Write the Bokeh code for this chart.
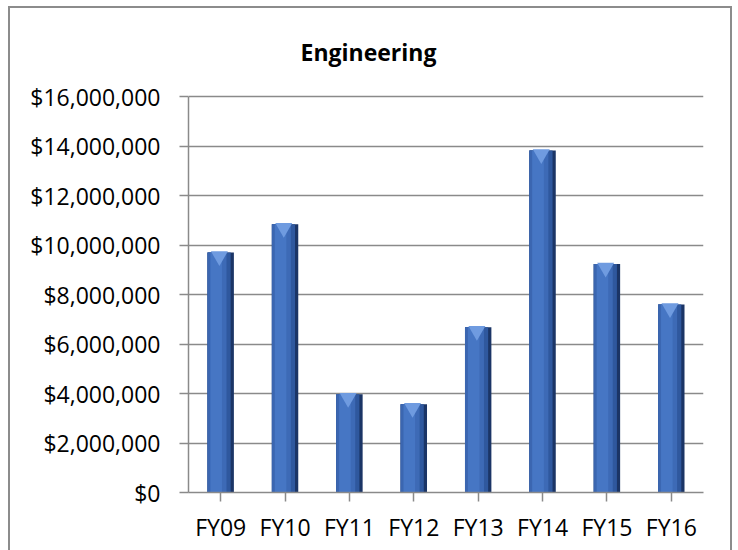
from bokeh.plotting import figure
from bokeh.models import FactorRange, Range1d, NumeralTickFormatter, FixedTicker, ColumnDataSource, Label
from bokeh.transform import dodge
from bokeh.embed import file_html
from bokeh.resources import INLINE

categories = ["FY09", "FY10", "FY11", "FY12", "FY13", "FY14", "FY15", "FY16"]
values = [9_700_000, 10_840_000, 3_970_000, 3_570_000, 6_680_000, 13_820_000, 9_230_000, 7_600_000]
y_ticks = [0, 2_000_000, 4_000_000, 6_000_000, 8_000_000, 10_000_000, 12_000_000, 14_000_000, 16_000_000]
y_max = 16_000_000

FONT = "Open Sans"
src = ColumnDataSource(dict(cat=categories, val=values,
                            tri=[v - 150_000 for v in values]))

# frame extends to the top of the canvas so the title can sit inside it;
# the axis and grid are bounded to 0..16M
FRAME_H = 484
p = figure(x_range=FactorRange(*categories), y_range=Range1d(0, y_max * FRAME_H / 396),
           frame_width=515, frame_height=FRAME_H, width=720, height=542,
           min_border_left=178, min_border_right=27, min_border_top=0, min_border_bottom=58,
           output_backend="svg", toolbar_location=None, tools="")
p.x_range.range_padding = 0
p.x_range.factor_padding = 0
p.outline_line_color = None
p.background_fill_color = "white"
p.border_fill_color = "white"
p.styles = {"margin-left": "8px", "margin-top": "6px",
            "border-left": "2px solid #8c8c8c", "border-top": "2px solid #8c8c8c",
            "border-right": "2px solid #8c8c8c"}

# bars with bevel-like shading
p.vbar(x="cat", top="val", width=0.41, source=src, color="#1b3566", line_color=None)
p.vbar(x=dodge("cat", -0.025, range=p.x_range), top="val", width=0.36, source=src,
       color="#2f589e", line_color=None)
p.vbar(x=dodge("cat", -0.05, range=p.x_range), top="val", width=0.28, source=src,
       color="#3d6ab6", line_color=None)
p.vbar(x=dodge("cat", -0.07, range=p.x_range), top="val", width=0.18, source=src,
       color="#4676c4", line_color=None)
p.vbar(x=dodge("cat", -0.185, range=p.x_range), top="val", width=0.04, source=src,
       color="#3b66b0", line_color=None)
p.scatter(x=dodge("cat", -0.02, range=p.x_range), y="tri", marker="inverted_triangle", size=17,
          source=src, color="#6f9be0", line_color=None)

# axes
p.yaxis.ticker = FixedTicker(ticks=y_ticks)
p.yaxis.formatter = NumeralTickFormatter(format="$0,0")
p.yaxis.bounds = (0, y_max)
for ax in (p.xaxis[0], p.yaxis[0]):
    ax.axis_line_color = "#8a8a8a"
    ax.axis_line_width = 1.5
    ax.major_tick_line_color = "#8a8a8a"
    ax.major_tick_line_width = 1.5
    ax.major_tick_out = 9
    ax.major_tick_in = 0
    ax.minor_tick_line_color = None
    ax.major_label_text_font = FONT
    ax.major_label_text_font_size = "23px"
    ax.major_label_text_color = "#000000"
p.yaxis.major_label_standoff = 19
p.xaxis.major_label_standoff = 9

p.xgrid.grid_line_color = None
p.ygrid.ticker = FixedTicker(ticks=y_ticks)
p.ygrid.grid_line_color = "#8a8a8a"
p.ygrid.grid_line_width = 1.5

title = Label(x=180, y=441, x_units="screen", y_units="screen", text="Engineering",
              text_font=FONT, text_font_style="bold", text_font_size="23px",
              text_align="center", text_baseline="alphabetic", text_color="#000000")
p.add_layout(title)

open("out.html", "w").write(file_html(p, INLINE))
